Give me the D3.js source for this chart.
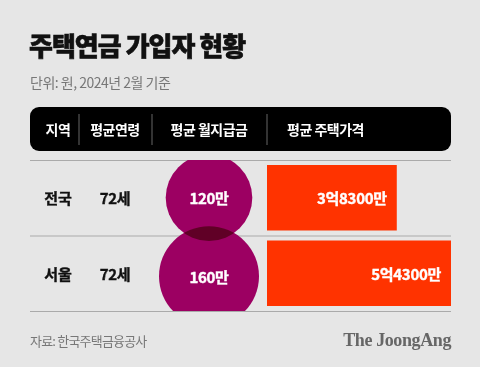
<!DOCTYPE html>
<html>
<head>
<meta charset="utf-8">
<script src="https://cdn.jsdelivr.net/npm/d3@7"></script>
<style>
  html, body { margin: 0; padding: 0; background: #e6e6e6; }
  svg { display: block; }
  text { font-family: "Noto Sans CJK KR", "Noto Sans", sans-serif; }
</style>
</head>
<body>
<div id="chart"></div>
<script>
// data (won units of 만원)
const regions = ["전국", "서울"];
const ages = [72, 72];
const monthly = [120, 160];
const prices = [38300, 54300];
const monthlyLabels = ["120만", "160만"];
const priceLabels = ["3억8300만", "5억4300만"];
const headers = ["지역", "평균연령", "평균 월지급금", "평균 주택가격"];

const width = 480;
const height = 367;
const left = 30, right = 451;
const colSep = [79, 152, 267];

const svg = d3
  .select("#chart")
  .append("svg")
  .attr("width", width)
  .attr("height", height);

svg.append("rect")
  .attr("width", width)
  .attr("height", height)
  .attr("fill", "#e6e6e6");

// title + subtitle
svg.append("text")
  .attr("x", left - 1)
  .attr("y", 44)
  .attr("dominant-baseline", "central")
  .attr("font-size", 26)
  .attr("font-weight", 900)
  .attr("letter-spacing", -1)
  .attr("fill", "#111")
  .style("stroke", "#111")
  .style("stroke-width", 0.6)
  .text("주택연금 가입자 현황");

svg.append("text")
  .attr("x", left)
  .attr("y", 82)
  .attr("dominant-baseline", "central")
  .attr("font-size", 14)
  .attr("letter-spacing", -0.5)
  .attr("fill", "#777")
  .text("단위: 원, 2024년 2월 기준");

// header bar
svg.append("rect")
  .attr("x", left)
  .attr("y", 107)
  .attr("width", right - left)
  .attr("height", 44)
  .attr("rx", 9)
  .attr("fill", "#000");

svg.selectAll(".sep")
  .data(colSep)
  .join("line")
  .attr("class", "sep")
  .attr("x1", (d) => d)
  .attr("x2", (d) => d)
  .attr("y1", 114)
  .attr("y2", 145)
  .attr("stroke", "#666")
  .attr("stroke-width", 1);

const headerX = [58, 115, 209, 287];
const headerAnchor = ["middle", "middle", "middle", "start"];
svg.selectAll(".head")
  .data(headers)
  .join("text")
  .attr("class", "head")
  .attr("x", (d, i) => headerX[i])
  .attr("y", 129)
  .attr("dominant-baseline", "central")
  .attr("text-anchor", (d, i) => headerAnchor[i])
  .attr("font-size", 14)
  .attr("font-weight", 700)
  .attr("letter-spacing", -0.5)
  .attr("fill", "#fff")
  .text((d) => d);

// scales
const yScale = d3.scaleBand().domain(regions).range([160, 311]);
const xScale = d3.scaleLinear().domain([0, d3.max(prices)]).range([267, right]);
const rScale = d3.scaleSqrt().domain([0, d3.max(monthly)]).range([0, 50]);

// row lines
const rowLines = [...regions.map((d) => yScale(d)), 311];
svg.selectAll(".rowline")
  .data(rowLines)
  .join("line")
  .attr("class", "rowline")
  .attr("x1", left)
  .attr("x2", right)
  .attr("y1", (d) => d + 0.5)
  .attr("y2", (d) => d + 0.5)
  .attr("stroke", "#aaa")
  .attr("stroke-width", 1);

// bars
svg.selectAll(".bar")
  .data(regions)
  .join("rect")
  .attr("class", "bar")
  .attr("x", xScale(0))
  .attr("y", (d) => yScale(d) + 5)
  .attr("width", (d, i) => xScale(prices[i]) - xScale(0))
  .attr("height", yScale.bandwidth() - 10)
  .attr("fill", "#ff3300");

svg.selectAll(".pricelabel")
  .data(regions)
  .join("text")
  .attr("class", "pricelabel")
  .attr("x", (d, i) => xScale(prices[i]) - 10)
  .attr("y", (d) => yScale(d) + yScale.bandwidth() / 2)
  .attr("dominant-baseline", "central")
  .attr("text-anchor", "end")
  .attr("font-size", 15)
  .attr("font-weight", 700)
  .attr("letter-spacing", -0.3)
  .attr("fill", "#fff")
  .style("stroke", "#fff")
  .style("stroke-width", 0.4)
  .text((d, i) => priceLabels[i]);

// circles, clipped to the table body
svg.append("clipPath")
  .attr("id", "body-clip")
  .append("rect")
  .attr("x", left)
  .attr("y", 160)
  .attr("width", right - left)
  .attr("height", 151);

const cx = 209;
svg.append("g")
  .attr("clip-path", "url(#body-clip)")
  .selectAll(".bubble")
  .data(regions)
  .join("circle")
  .attr("class", "bubble")
  .attr("cx", cx)
  .attr("cy", (d, i) => yScale(d) + yScale.bandwidth() / 2 + i * 3)
  .attr("r", (d, i) => rScale(monthly[i]))
  .attr("fill", "#9c0062")
  .style("mix-blend-mode", "multiply");

svg.selectAll(".bubblelabel")
  .data(regions)
  .join("text")
  .attr("class", "bubblelabel")
  .attr("x", cx)
  .attr("y", (d, i) => yScale(d) + yScale.bandwidth() / 2 + i * 3)
  .attr("dominant-baseline", "central")
  .attr("text-anchor", "middle")
  .attr("font-size", 15)
  .attr("font-weight", 700)
  .attr("letter-spacing", -0.3)
  .attr("fill", "#fff")
  .style("stroke", "#fff")
  .style("stroke-width", 0.4)
  .text((d, i) => monthlyLabels[i]);

// region + age columns
svg.selectAll(".region")
  .data(regions)
  .join("text")
  .attr("class", "region")
  .attr("x", 58)
  .attr("y", (d) => yScale(d) + yScale.bandwidth() / 2)
  .attr("dominant-baseline", "central")
  .attr("text-anchor", "middle")
  .attr("font-size", 15)
  .attr("font-weight", 700)
  .attr("fill", "#111")
  .style("stroke", "#111")
  .style("stroke-width", 0.4)
  .text((d) => d);

svg.selectAll(".age")
  .data(regions)
  .join("text")
  .attr("class", "age")
  .attr("x", 115)
  .attr("y", (d) => yScale(d) + yScale.bandwidth() / 2)
  .attr("dominant-baseline", "central")
  .attr("text-anchor", "middle")
  .attr("font-size", 15)
  .attr("font-weight", 700)
  .attr("letter-spacing", -0.3)
  .attr("fill", "#111")
  .style("stroke", "#111")
  .style("stroke-width", 0.4)
  .text((d, i) => ages[i] + "세");

// footer
svg.append("text")
  .attr("x", left)
  .attr("y", 340)
  .attr("dominant-baseline", "central")
  .attr("font-size", 13)
  .attr("letter-spacing", -0.8)
  .attr("fill", "#777")
  .text("자료: 한국주택금융공사");

svg.append("text")
  .attr("x", right)
  .attr("y", 346)
  .attr("text-anchor", "end")
  .style("font-family", "'Liberation Serif', 'DejaVu Serif', serif")
  .attr("font-size", 18)
  .attr("font-weight", 700)
  .attr("letter-spacing", -0.4)
  .attr("fill", "#666")
  .text("The JoongAng");
</script>
</body>
</html>
